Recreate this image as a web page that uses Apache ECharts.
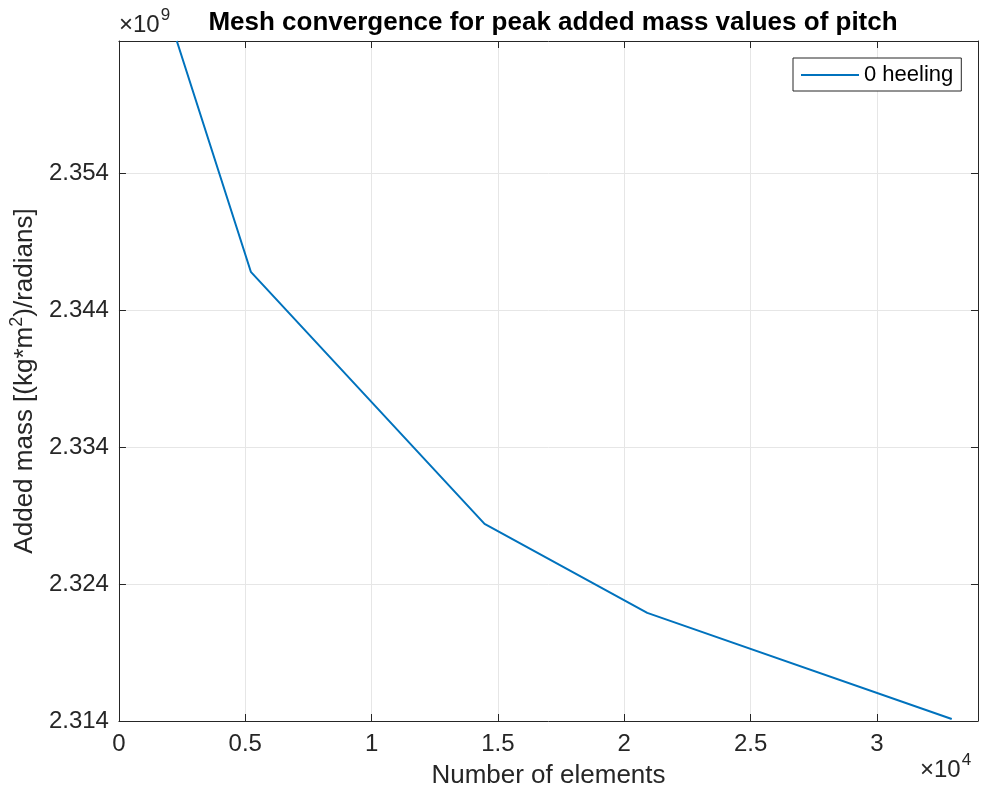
<!DOCTYPE html>
<html>
<head>
<meta charset="utf-8">
<script src="https://cdn.jsdelivr.net/npm/echarts@6/dist/echarts.min.js"></script>
<style>
html,body{margin:0;padding:0;background:#fff;}
#c{width:982px;height:799px;}
</style>
</head>
<body>
<div id="c"></div>
<script>
// Data (y in units of 1e9, x in number of elements)
const elements = [2290, 5220, 14470, 20910, 32960];
const addedMass = [2.3637, 2.34683, 2.32841, 2.3219, 2.31415];
const seriesName = '0 heeling';
const xTickStep = 5000;
const yTickStep = 0.01;

const FONT = '"Liberation Sans", Arial, Helvetica, sans-serif';
const axisColor = '#262626';
const gridColor = '#e6e6e6';

const chart = echarts.init(document.getElementById('c'), null, {renderer: 'canvas'});

const xMin = 0, xMax = 34000, yMin = 2.314, yMax = 2.3637;

function xLab(v){
  const r = Math.round(v / xTickStep);
  if (Math.abs(v - r * xTickStep) > 1e-6) return '';
  return String(+(v / 1e4).toFixed(2));
}
function yLab(v){
  const r = Math.round((v - yMin) / yTickStep);
  if (Math.abs(v - yMin - r * yTickStep) > 1e-7) return '';
  return v.toFixed(3);
}

const option = {
  backgroundColor: '#fff',
  animation: false,
  title: {
    text: 'Mesh convergence for peak added mass values of pitch',
    left: 548, top: 5, textAlign: 'center',
    textStyle: {fontFamily: FONT, fontSize: 26, fontWeight: 'bold', color: '#000'}
  },
  legend: {
    left: 793, top: 58,
    data: [{name: seriesName, icon: 'rect'}],
    backgroundColor: '#fff',
    borderColor: axisColor, borderWidth: 1,
    padding: [6, 8, 5, 8],
    itemWidth: 58, itemHeight: 2, itemGap: 6,
    textStyle: {fontFamily: FONT, fontSize: 22, color: '#000'}
  },
  grid: {left: 118, right: 4, top: 41, bottom: 78, containLabel: false},
  xAxis: [{
    type: 'value', min: xMin, max: xMax, interval: xTickStep,
    name: 'Number of elements', nameLocation: 'middle', nameGap: 42,
    nameTextStyle: {fontFamily: FONT, fontSize: 26, color: axisColor},
    axisLine: {show: true, onZero: false, lineStyle: {color: axisColor, width: 1}},
    axisTick: {show: true, inside: true, length: 7, lineStyle: {color: axisColor}},
    axisLabel: {formatter: xLab, fontFamily: FONT, fontSize: 24, color: axisColor, margin: 11},
    splitLine: {show: true, lineStyle: {color: gridColor, width: 1}}
  }, {
    type: 'value', position: 'top', min: xMin, max: xMax, interval: xTickStep,
    axisLine: {show: true, onZero: false, lineStyle: {color: axisColor, width: 1}},
    axisTick: {show: true, inside: true, length: 7, lineStyle: {color: axisColor}},
    axisLabel: {show: false}, splitLine: {show: false}
  }],
  yAxis: [{
    type: 'value', min: yMin, max: yMax, interval: yTickStep,
    name: '{a|Added mass [(kg*m}{s|2}{a|)/radians]}', nameLocation: 'middle', nameGap: 70,
    nameTextStyle: {
      fontFamily: FONT, fontSize: 26, color: axisColor,
      rich: {
        a: {fontFamily: FONT, fontSize: 26, color: axisColor, verticalAlign: 'bottom', lineHeight: 30},
        s: {fontFamily: FONT, fontSize: 18, color: axisColor, verticalAlign: 'top', lineHeight: 30, padding: [0, 0, 12, 0]}
      }
    },
    axisLine: {show: true, onZero: false, lineStyle: {color: axisColor, width: 1}},
    axisTick: {show: true, inside: true, length: 7, lineStyle: {color: axisColor}},
    axisLabel: {formatter: yLab, fontFamily: FONT, fontSize: 24, color: axisColor, margin: 10},
    splitLine: {show: true, lineStyle: {color: gridColor, width: 1}}
  }, {
    type: 'value', position: 'right', min: yMin, max: yMax, interval: yTickStep,
    axisLine: {show: true, onZero: false, lineStyle: {color: axisColor, width: 1}},
    axisTick: {show: true, inside: true, length: 7, lineStyle: {color: axisColor}},
    axisLabel: {show: false}, splitLine: {show: false}
  }],
  series: [{
    name: seriesName, type: 'line',
    xAxisIndex: 0, yAxisIndex: 0,
    data: elements.map((x, i) => [x, addedMass[i]]),
    showSymbol: false, symbol: 'none',
    lineStyle: {color: '#0072BD', width: 2},
    itemStyle: {color: '#0072BD'},
    clip: true
  }],
  graphic: [{
    type: 'text', left: 119, top: 7,
    style: {
      text: '{a|×10}{s|9}',
      rich: {
        a: {fontFamily: FONT, fontSize: 24, fill: axisColor, verticalAlign: 'bottom', lineHeight: 30},
        s: {fontFamily: FONT, fontSize: 17, fill: axisColor, verticalAlign: 'top', lineHeight: 30, padding: [0,0,12,1]}
      }
    }
  }, {
    type: 'text', left: 920, top: 752,
    style: {
      text: '{a|×10}{s|4}',
      rich: {
        a: {fontFamily: FONT, fontSize: 24, fill: axisColor, verticalAlign: 'bottom', lineHeight: 30},
        s: {fontFamily: FONT, fontSize: 17, fill: axisColor, verticalAlign: 'top', lineHeight: 30, padding: [0,0,12,1]}
      }
    }
  }]
};
chart.setOption(option);
</script>
</body>
</html>
